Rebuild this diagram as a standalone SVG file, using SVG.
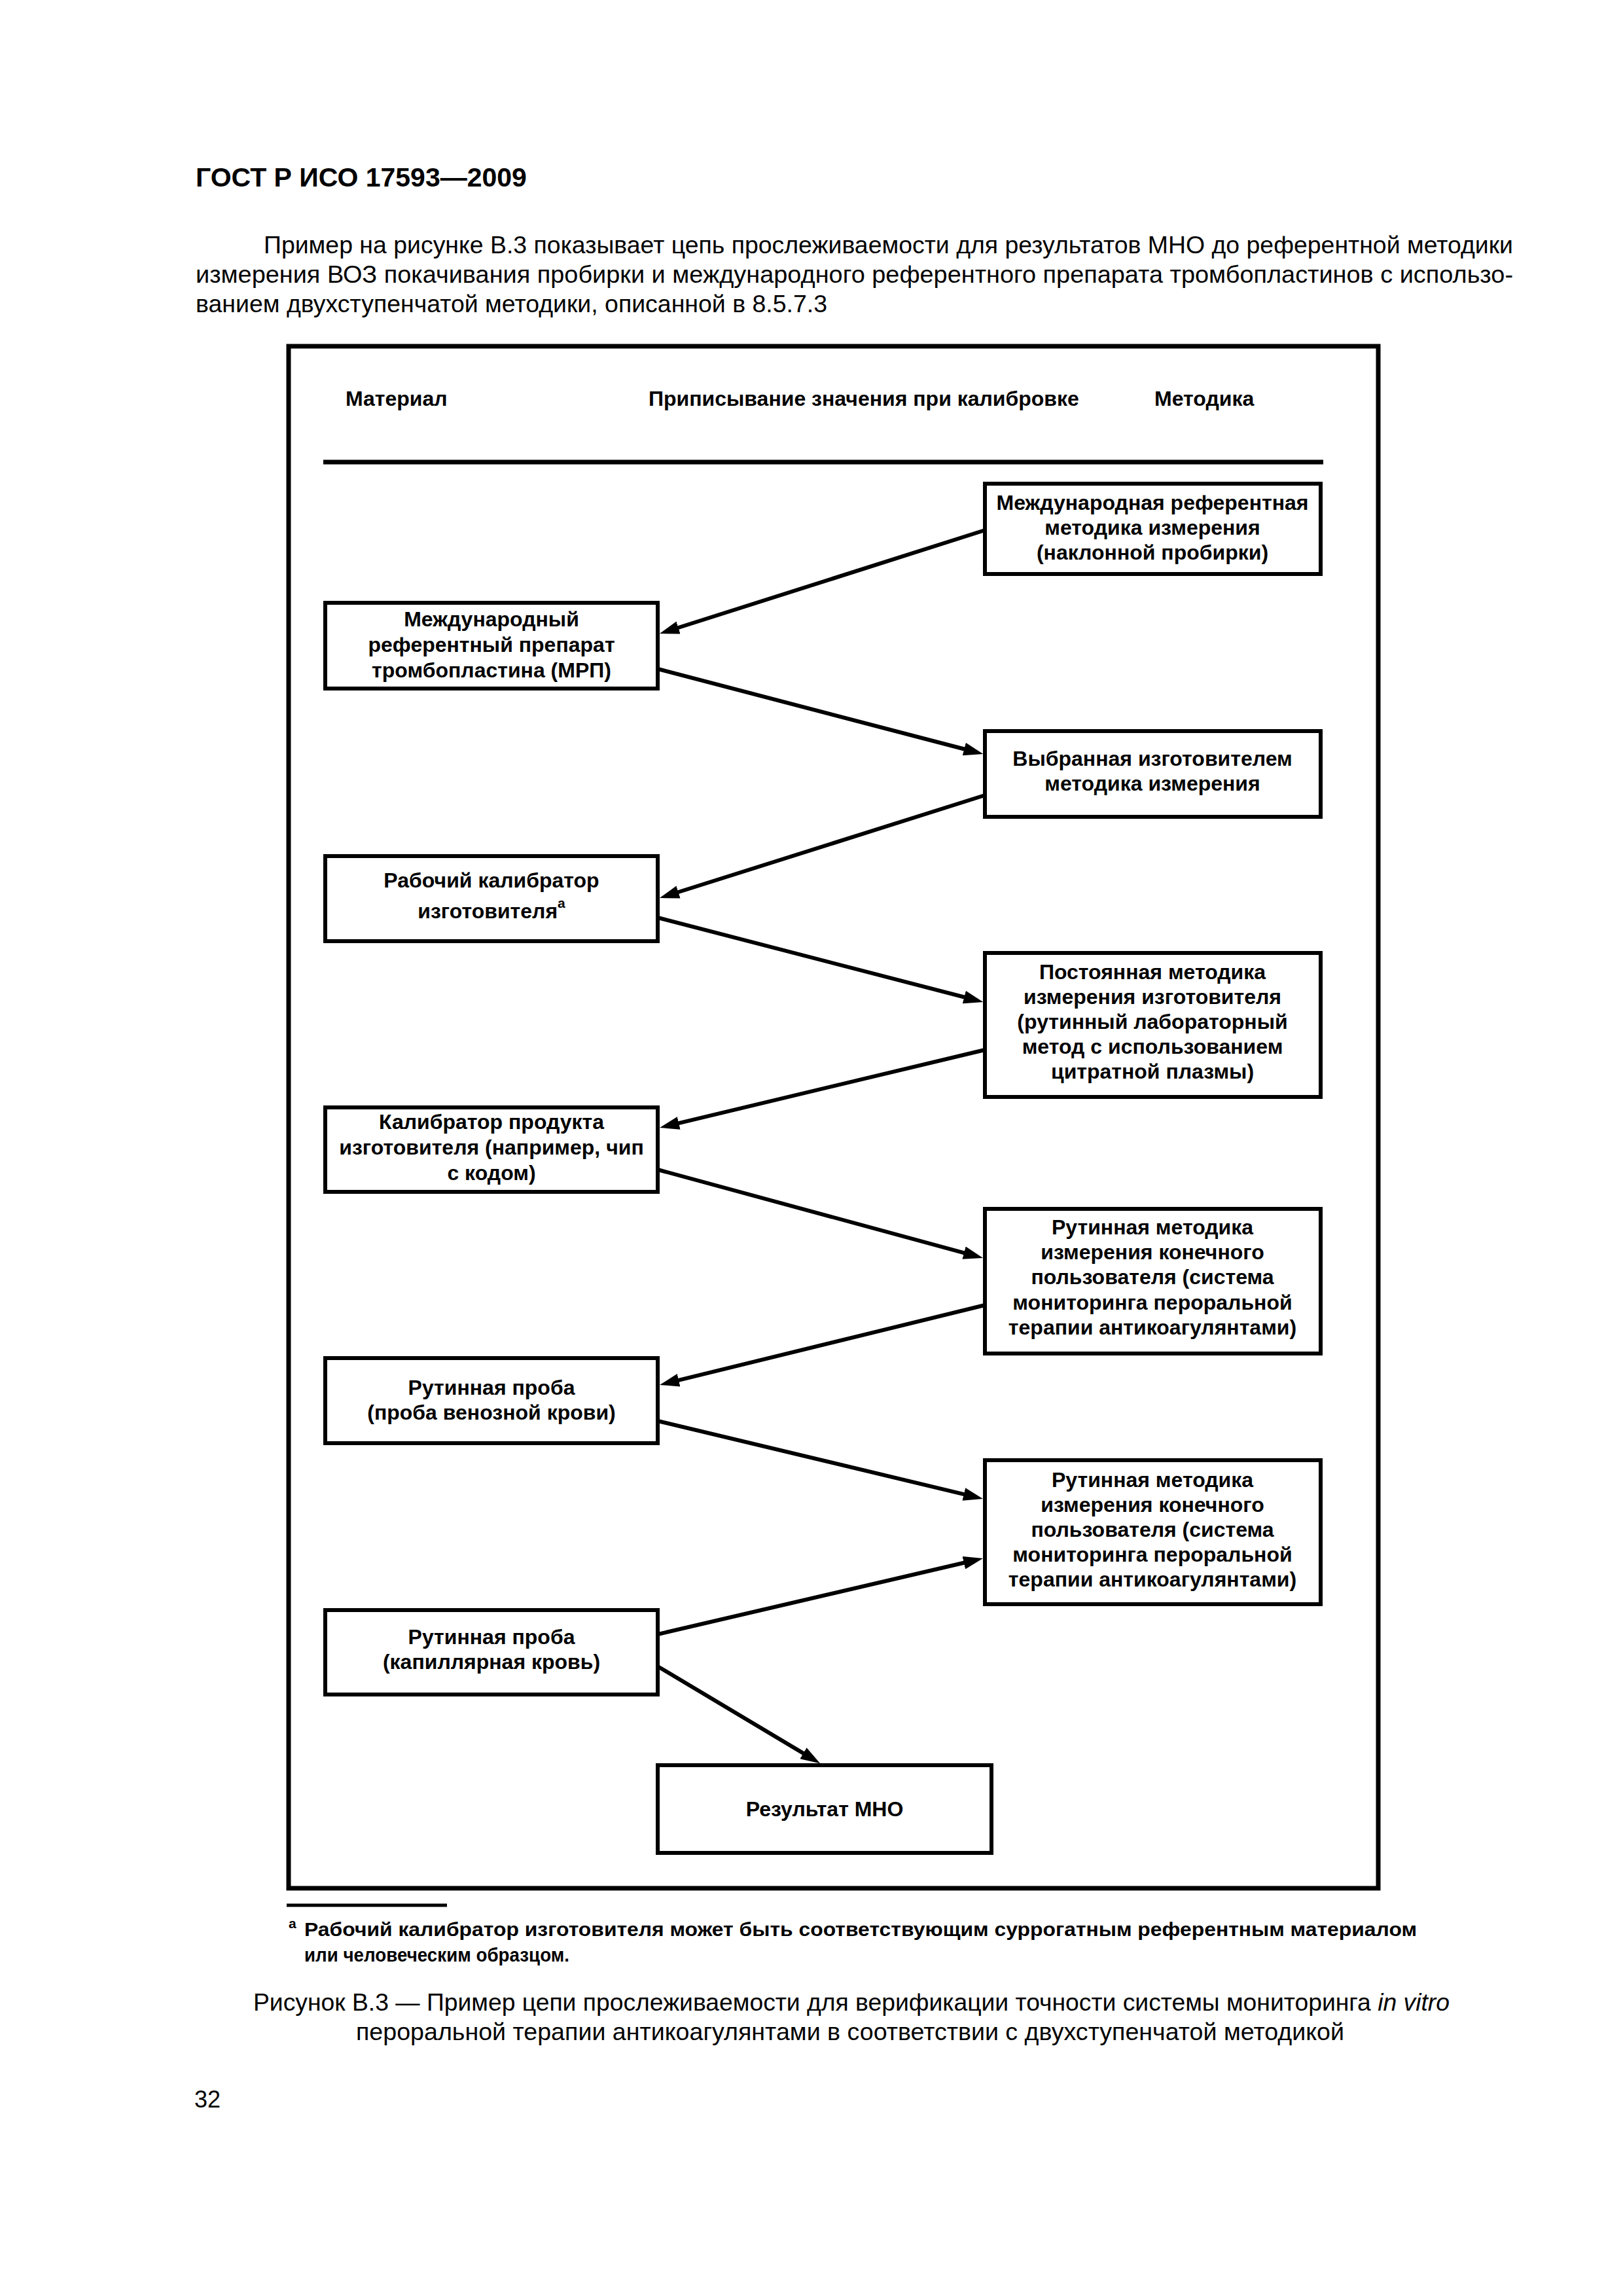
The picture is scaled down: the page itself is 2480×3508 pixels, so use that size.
<svg xmlns="http://www.w3.org/2000/svg" width="2480" height="3508" viewBox="0 0 2480 3508">
<defs>
<style>
.page{fill:#fff}
.frame{fill:none;stroke:#000;stroke-width:7}
.rule{stroke:#000;stroke-width:7}
.box{fill:#fff;stroke:#000;stroke-width:6}
.t{font-family:"Liberation Sans",Arial,sans-serif;font-size:32px;font-weight:bold;text-anchor:middle;fill:#000}
.h{font-family:"Liberation Sans",Arial,sans-serif;font-size:32px;font-weight:bold;fill:#000}
.p{font-family:"Liberation Sans",Arial,sans-serif;font-size:36px;fill:#000}
.fn{font-family:"Liberation Sans",Arial,sans-serif;font-size:30px;font-weight:bold;fill:#000}
.sup{font-size:21px}
.conn line{stroke:#000;stroke-width:6;marker-end:url(#ah)}
</style>
<marker id="ah" viewBox="0 0 30 20" refX="10" refY="10" markerWidth="30" markerHeight="20" markerUnits="userSpaceOnUse" orient="auto">
<path d="M0,0 L30,10 L0,20 z" fill="#000"/>
</marker>
</defs>
<rect class="page" x="0" y="0" width="2480" height="3508"/>

<text class="p" x="299" y="285" style="font-size:41px;font-weight:bold">ГОСТ Р ИСО 17593—2009</text>

<text class="p" x="403" y="387" textLength="1909" lengthAdjust="spacingAndGlyphs">Пример на рисунке В.3 показывает цепь прослеживаемости для результатов МНО до референтной методики</text>
<text class="p" x="299" y="432" textLength="2013" lengthAdjust="spacingAndGlyphs">измерения ВОЗ покачивания пробирки и международного референтного препарата тромбопластинов с использо-</text>
<text class="p" x="299" y="477" textLength="965" lengthAdjust="spacingAndGlyphs">ванием двухступенчатой методики, описанной в 8.5.7.3</text>

<rect class="frame" x="441" y="529" width="1665" height="2356"/>

<g id="header">
<text class="h" x="528" y="620">Материал</text>
<text class="h" x="991" y="620">Приписывание значения при калибровке</text>
<text class="h" x="1764" y="620">Методика</text>
<line class="rule" x1="494" y1="706" x2="2022" y2="706"/>
</g>

<g id="connectors" class="conn">
<line x1="1505" y1="810" x2="1027" y2="962"/>
<line x1="1005" y1="1022" x2="1483" y2="1147"/>
<line x1="1505" y1="1215" x2="1027" y2="1366"/>
<line x1="1005" y1="1402" x2="1483" y2="1526"/>
<line x1="1505" y1="1604" x2="1027.5" y2="1718.3"/>
<line x1="1005" y1="1787" x2="1482.7" y2="1916.8"/>
<line x1="1505" y1="1994" x2="1027.4" y2="2111.2"/>
<line x1="1005" y1="2171" x2="1482.5" y2="2285.3"/>
<line x1="1005" y1="2497" x2="1482.5" y2="2385.5"/>
<line x1="1005" y1="2546" x2="1236" y2="2683.9"/>
</g>

<g id="n1">
<rect class="box" x="1505" y="739" width="513" height="138"/>
<text class="t" x="1761" y="779">Международная референтная</text>
<text class="t" x="1761" y="817">методика измерения</text>
<text class="t" x="1761" y="855">(наклонной пробирки)</text>
</g>
<g id="n2">
<rect class="box" x="497" y="921" width="508" height="131"/>
<text class="t" x="751" y="957">Международный</text>
<text class="t" x="751" y="996">референтный препарат</text>
<text class="t" x="751" y="1035">тромбопластина (МРП)</text>
</g>
<g id="n3">
<rect class="box" x="1505" y="1117" width="513" height="131"/>
<text class="t" x="1761" y="1170">Выбранная изготовителем</text>
<text class="t" x="1761" y="1208">методика измерения</text>
</g>
<g id="n4">
<rect class="box" x="497" y="1308" width="508" height="130"/>
<text class="t" x="751" y="1356">Рабочий калибратор</text>
<text class="t" x="751" y="1403">изготовителя<tspan class="sup" dy="-16">а</tspan></text>
</g>
<g id="n5">
<rect class="box" x="1505" y="1456" width="513" height="220"/>
<text class="t" x="1761" y="1496">Постоянная методика</text>
<text class="t" x="1761" y="1534">измерения изготовителя</text>
<text class="t" x="1761" y="1572">(рутинный лабораторный</text>
<text class="t" x="1761" y="1610">метод с использованием</text>
<text class="t" x="1761" y="1648">цитратной плазмы)</text>
</g>
<g id="n6">
<rect class="box" x="497" y="1692" width="508" height="129"/>
<text class="t" x="751" y="1725">Калибратор продукта</text>
<text class="t" x="751" y="1764">изготовителя (например, чип</text>
<text class="t" x="751" y="1803">с кодом)</text>
</g>
<g id="n7">
<rect class="box" x="1505" y="1847" width="513" height="221"/>
<text class="t" x="1761" y="1886">Рутинная методика</text>
<text class="t" x="1761" y="1924">измерения конечного</text>
<text class="t" x="1761" y="1962">пользователя (система</text>
<text class="t" x="1761" y="2001">мониторинга пероральной</text>
<text class="t" x="1761" y="2039">терапии антикоагулянтами)</text>
</g>
<g id="n8">
<rect class="box" x="497" y="2075" width="508" height="130"/>
<text class="t" x="751" y="2131">Рутинная проба</text>
<text class="t" x="751" y="2169">(проба венозной крови)</text>
</g>
<g id="n9">
<rect class="box" x="1505" y="2231" width="513" height="220"/>
<text class="t" x="1761" y="2272">Рутинная методика</text>
<text class="t" x="1761" y="2310">измерения конечного</text>
<text class="t" x="1761" y="2348">пользователя (система</text>
<text class="t" x="1761" y="2386">мониторинга пероральной</text>
<text class="t" x="1761" y="2424">терапии антикоагулянтами)</text>
</g>
<g id="n10">
<rect class="box" x="497" y="2460" width="508" height="129"/>
<text class="t" x="751" y="2512">Рутинная проба</text>
<text class="t" x="751" y="2550">(капиллярная кровь)</text>
</g>
<g id="n11">
<rect class="box" x="1005" y="2697" width="510" height="134"/>
<text class="t" x="1260" y="2775">Результат МНО</text>
</g>

<line x1="438" y1="2911" x2="683" y2="2911" stroke="#000" stroke-width="5"/>
<text class="fn" x="441" y="2946" style="font-size:21px">а</text>
<text class="fn" x="465" y="2958" textLength="1700" lengthAdjust="spacingAndGlyphs">Рабочий калибратор изготовителя может быть соответствующим суррогатным референтным материалом</text>
<text class="fn" x="465" y="2997" textLength="405" lengthAdjust="spacingAndGlyphs">или человеческим образцом.</text>

<text class="p" x="387" y="3072" style="font-size:37px" textLength="1828" lengthAdjust="spacingAndGlyphs">Рисунок В.3 — Пример цепи прослеживаемости для верификации точности системы мониторинга <tspan font-style="italic">in vitro</tspan></text>
<text class="p" x="544" y="3117" style="font-size:37px" textLength="1510" lengthAdjust="spacingAndGlyphs">пероральной терапии антикоагулянтами в соответствии с двухступенчатой методикой</text>

<text class="p" x="297" y="3220">32</text>
</svg>
